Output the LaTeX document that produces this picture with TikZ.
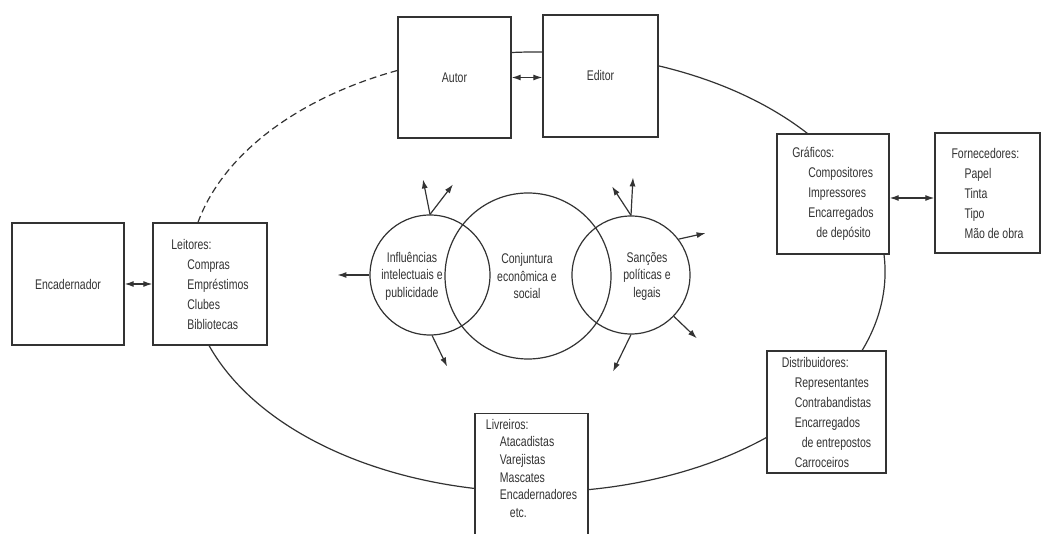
\documentclass[tikz,border=0pt]{standalone}
\usepackage{fontspec}
\setmainfont{Liberation Sans}[FakeStretch=0.75]
\usepackage{tikz}
\usetikzlibrary{arrows.meta,positioning,calc}

\definecolor{tinta}{gray}{0.2}
\newcommand{\recuo}{\hspace*{16pt}}
\newcommand{\recuob}{\hspace*{24pt}}

\tikzset{
  caixa/.style={draw=tinta,line width=1.3pt,fill=white,align=left,inner sep=0pt,
    text=tinta,font=\fontsize{14}{20}\selectfont},
  lista/.style={align=left,text=tinta,inner sep=0pt,font=\fontsize{14}{17.6}\selectfont},
  circulo/.style={draw=tinta,line width=1.2pt,circle,inner sep=0pt},
  rotulo/.style={align=center,text=tinta,inner sep=0pt,font=\fontsize{14}{17.5}\selectfont},
  seta/.style={->,line width=1.2pt,draw=tinta},
  duplaseta/.style={<->,line width=1.2pt,draw=tinta}
}

\begin{document}
\begin{tikzpicture}[x=1pt,y=-1pt,>={Latex[length=9pt,width=6pt]}]
  \clip (0,0) rectangle (1042,534);
  \fill[white] (0,0) rectangle (1042,534);
  % circuito do livro (elipse), tracejado entre leitores e autor
  \coordinate (oval) at (537,272);
  \draw[tinta,line width=1.2pt] (oval) ++(247:348 and 220)
    arc[start angle=247,end angle=553,x radius=348,y radius=220];
  \draw[tinta,line width=1.2pt,dash pattern=on 7pt off 4pt] (oval) ++(193:348 and 220)
    arc[start angle=193,end angle=247,x radius=348,y radius=220];
  % caixas
  \node[caixa,minimum width=112,minimum height=122] (encadernador) at (68,284) {Encadernador};
  \node[caixa,minimum width=114,minimum height=122] (leitores) at (210,284)
    {Leitores:\\\recuo Compras\\\recuo Empréstimos\\\recuo Clubes\\\recuo Bibliotecas};
  \node[caixa,minimum width=113,minimum height=121] (autor) at (454.5,77.5) {Autor};
  \node[caixa,minimum width=115,minimum height=122] (editor) at (600.5,76) {Editor};
  \node[caixa,minimum width=112,minimum height=120] (graficos) at (833,194)
    {Gráficos:\\\recuo Compositores\\\recuo Impressores\\\recuo Encarregados\\\recuob de depósito};
  \node[caixa,minimum width=105,minimum height=120] (fornecedores) at (987.5,193)
    {Fornecedores:\\\hspace*{13pt}Papel\\\hspace*{13pt}Tinta\\\hspace*{13pt}Tipo\\\hspace*{13pt}Mão de obra};
  \node[caixa,minimum width=119,minimum height=122] (distribuidores) at (826.5,412)
    {Distribuidores:\\\hspace*{13pt}Representantes\\\hspace*{13pt}Contrabandistas\\\hspace*{13pt}Encarregados\\\hspace*{20pt}de entrepostos\\\hspace*{13pt}Carroceiros};
  \node[caixa,anchor=north,minimum width=113,minimum height=150] (livreiros) at (531.5,413) {};
  \node[lista,anchor=north] (tlivreiros) at ([yshift=-6pt]livreiros.north)
    {Livreiros:\\\hspace*{14pt}Atacadistas\\\hspace*{14pt}Varejistas\\\hspace*{14pt}Mascates\\\hspace*{14pt}Encadernadores\\\recuob etc.};
  % ligacoes entre caixas
  \draw[duplaseta] (encadernador) -- (leitores);
  \draw[duplaseta] (autor.east) -- (autor.east -| editor.west);
  \draw[duplaseta] ([yshift=-4pt]graficos.east) -- ([yshift=-4pt]graficos.east -| fornecedores.west);
  % circulos centrais
  \node[circulo,minimum size=120] (influencias) at (430,275) {};
  \node[circulo,minimum size=166] (conjuntura) at (528,276) {};
  \node[circulo,minimum size=118] (sancoes) at (631,275) {};
  \node[rotulo] (tinfluencias) at (412,276) {Influências\\intelectuais e\\publicidade};
  \node[rotulo] (tconjuntura) at (527,276) {Conjuntura\\econômica e\\social};
  \node[rotulo] (tsancoes) at (647,276) {Sanções\\políticas e\\legais};
  % setas que saem dos circulos
  \draw[seta] (influencias.90) -- ++(-7,-35);
  \draw[seta] (influencias.90) -- ++(23,-30);
  \draw[seta] (influencias.180) -- ++(-32,0);
  \draw[seta] (influencias.272) -- ++(15,31);
  \draw[seta] (sancoes.90) -- ++(2,-38);
  \draw[seta] (sancoes.90) -- ++(-19,-29);
  \draw[seta] (sancoes.37) -- ++(27,-6);
  \draw[seta] (sancoes.316) -- ++(23,22);
  \draw[seta] (sancoes.270) -- ++(-18,37);
\end{tikzpicture}
\end{document}
